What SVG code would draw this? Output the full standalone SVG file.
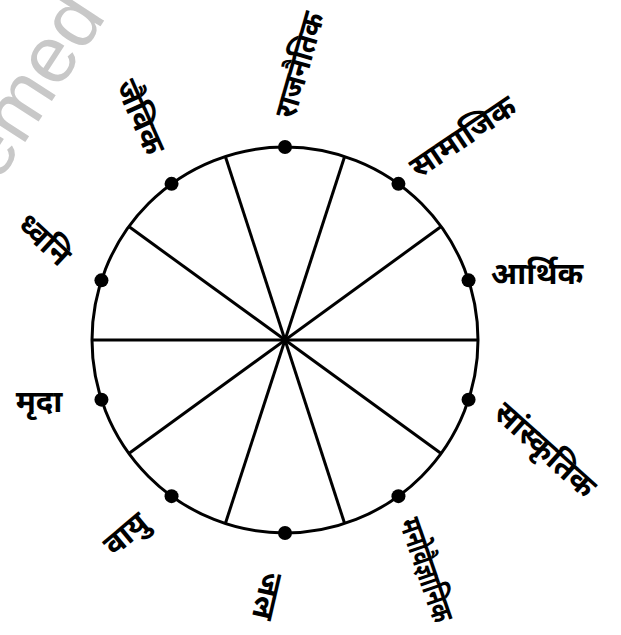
<svg xmlns="http://www.w3.org/2000/svg" width="621" height="635" viewBox="0 0 621 635">
<style>
.lbl{font-family:"Noto Sans","Noto Sans Devanagari","Lohit Devanagari",sans-serif;font-weight:bold;font-size:31px;fill:#000;text-anchor:middle}
.sp{stroke:#000;stroke-width:3;fill:none}
.dot{fill:#000}
.wm{font-family:"Liberation Sans",Arial,sans-serif;font-size:80px;fill:#c8c8c8}
</style>
<rect width="621" height="635" fill="#fff"/>
<text class="wm" transform="translate(-2,184) rotate(-57)">emed</text>
<g id="wheel">
<circle cx="285" cy="340" r="193" class="sp"/>
</g>
<g id="connectors">
<line class="sp" x1="344.64" y1="156.45" x2="225.36" y2="523.55"/>
<line class="sp" x1="441.14" y1="226.55" x2="128.86" y2="453.45"/>
<line class="sp" x1="478" y1="340" x2="92" y2="340"/>
<line class="sp" x1="441.14" y1="453.45" x2="128.86" y2="226.55"/>
<line class="sp" x1="344.64" y1="523.55" x2="225.36" y2="156.45"/>
</g>
<g id="n-rajnaitik"><circle class="dot" cx="285" cy="147" r="7"/><text class="lbl" transform="translate(300,65) rotate(-74)" y="10" textLength="108" lengthAdjust="spacingAndGlyphs">राजनैतिक</text></g>
<g id="n-samajik"><circle class="dot" cx="398.45" cy="183.86" r="7"/><text class="lbl" transform="translate(463,137) rotate(-34)" y="10">सामाजिक</text></g>
<g id="n-arthik"><circle class="dot" cx="468.56" cy="280.36" r="7"/><text class="lbl" x="537" y="284">आर्थिक</text></g>
<g id="n-sanskritik"><circle class="dot" cx="468.56" cy="399.64" r="7"/><text class="lbl" transform="translate(545,450) rotate(42)" y="10">सांस्कृतिक</text></g>
<g id="n-manovaigyanik"><circle class="dot" cx="398.45" cy="496.14" r="7"/><text class="lbl" transform="translate(426,570) rotate(71)" y="10" textLength="108" lengthAdjust="spacingAndGlyphs">मनोवैज्ञानिक</text></g>
<g id="n-jal"><circle class="dot" cx="285" cy="533" r="7"/><text class="lbl" transform="translate(267,596) rotate(103)" y="10">जल</text></g>
<g id="n-vayu"><circle class="dot" cx="171.55" cy="496.14" r="7"/><text class="lbl" transform="translate(126,534) rotate(-40)" y="10">वायु</text></g>
<g id="n-mrida"><circle class="dot" cx="101.44" cy="399.64" r="7"/><text class="lbl" x="39" y="412">मृदा</text></g>
<g id="n-dhvani"><circle class="dot" cx="101.44" cy="280.36" r="7"/><text class="lbl" transform="translate(44,240) rotate(43)" y="10">ध्वनि</text></g>
<g id="n-jaivik"><circle class="dot" cx="171.55" cy="183.86" r="7"/><text class="lbl" transform="translate(140,117) rotate(66)" y="10">जैविक</text></g>
</svg>
